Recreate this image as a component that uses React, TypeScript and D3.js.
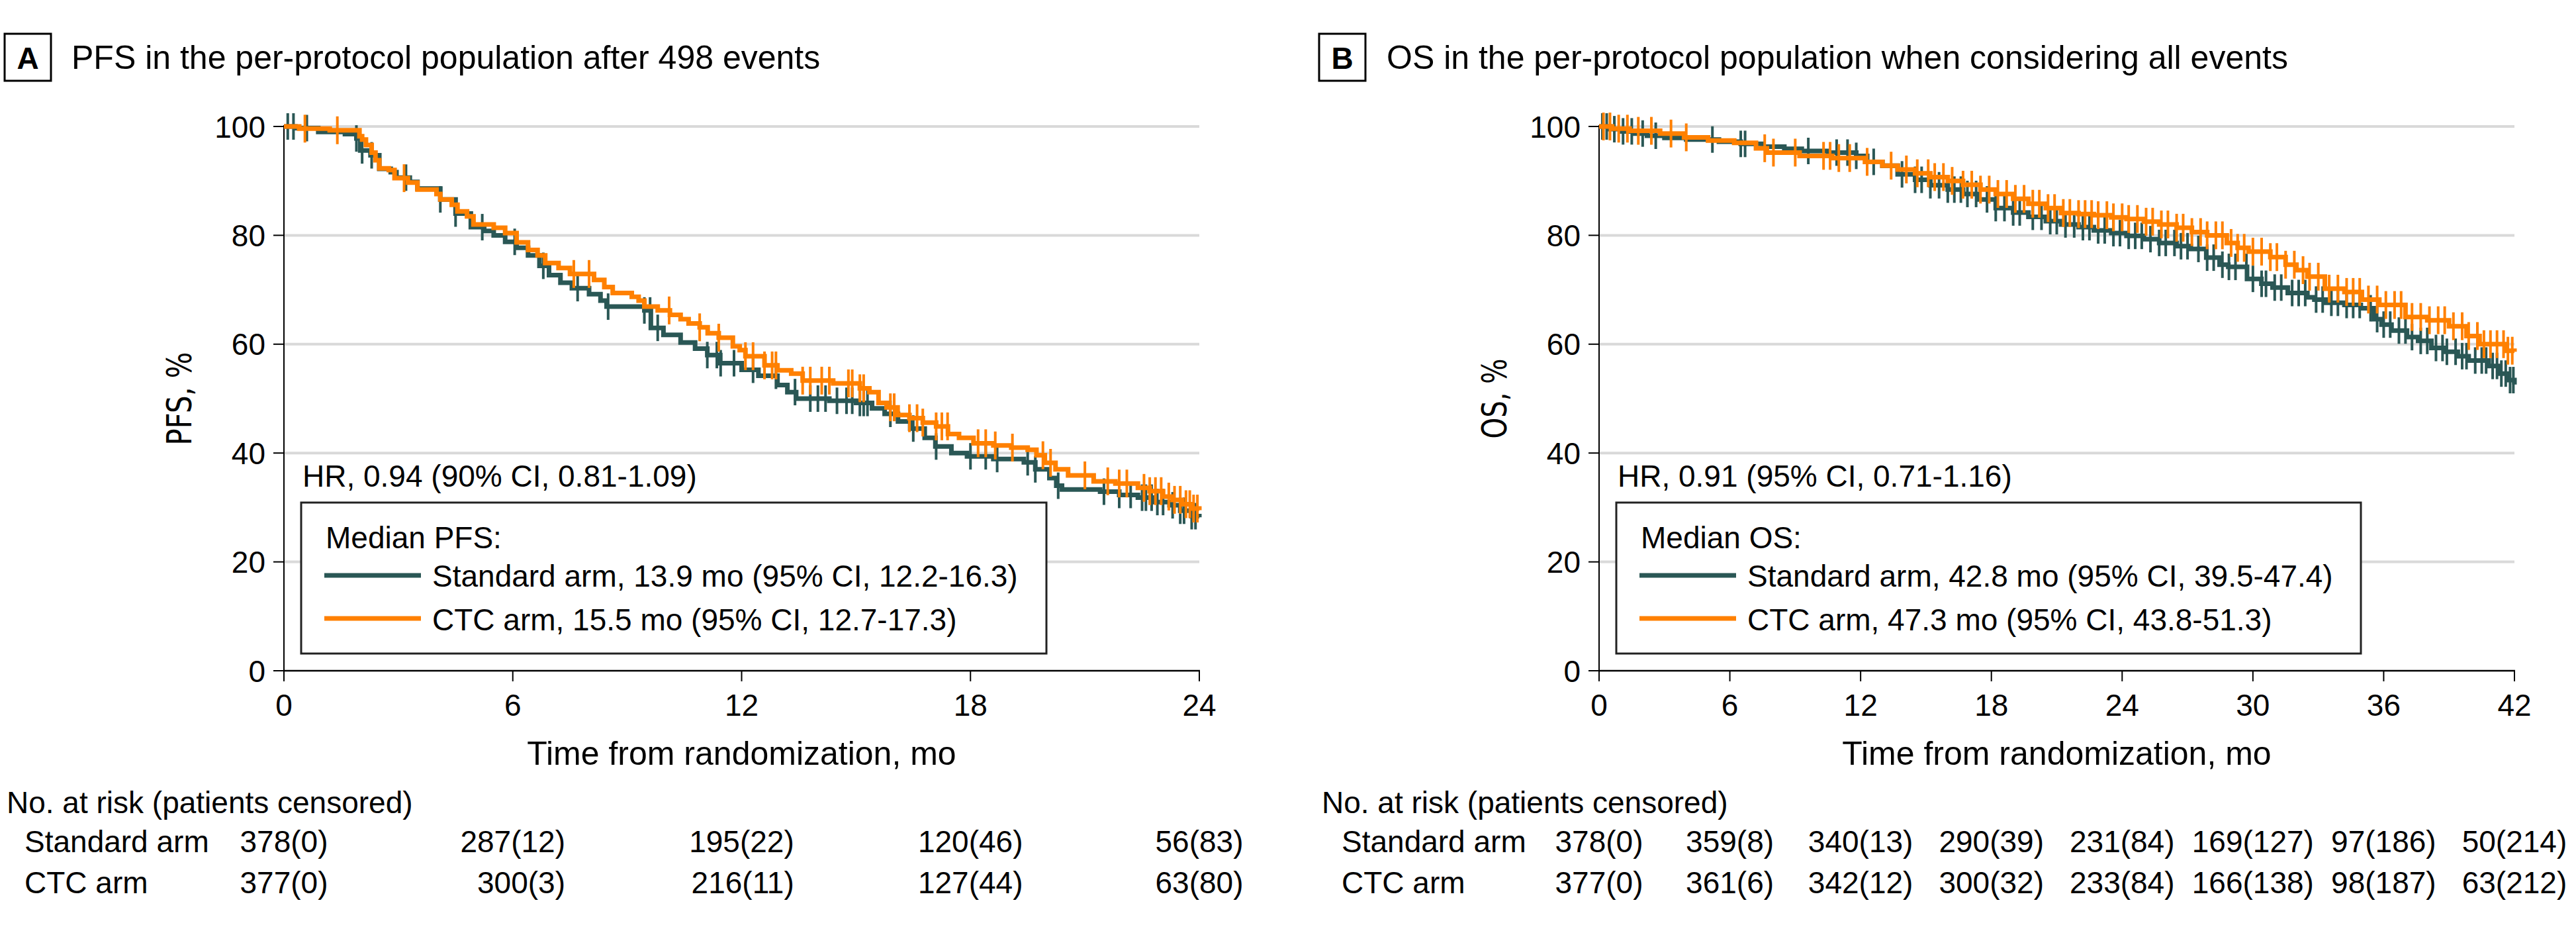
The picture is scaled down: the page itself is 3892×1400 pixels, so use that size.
import React from 'react';
import * as d3 from 'd3';

// ---------- DATA ----------
const panelATitle = 'PFS in the per-protocol population after 498 events';
const panelBTitle = 'OS in the per-protocol population when considering all events';

const xTicksA = [0, 6, 12, 18, 24];
const xTicksB = [0, 6, 12, 18, 24, 30, 36, 42];
const yTicks = [0, 20, 40, 60, 80, 100];

// Kaplan-Meier step points [month, percent]
const pfsStandard: [number, number][] = [
  [0, 100], [0.3, 99.7], [0.9, 99.0], [1.6, 98.6], [1.9, 97.8], [2.0, 95.6], [2.27, 94.7], [2.5, 92.2],
  [2.8, 91.6], [2.95, 90.6], [3.3, 89.8], [3.5, 88.6], [4.1, 86.6], [4.5, 84.0], [4.9, 81.5], [5.25, 80.8],
  [5.5, 80.0], [5.8, 78.8], [6.1, 77.7], [6.4, 76.3], [6.7, 74.4], [6.95, 72.7], [7.25, 71.3], [7.55, 70.3],
  [8.0, 69.2], [8.3, 68.0], [8.46, 66.9], [9.45, 66.2], [9.62, 63.0], [9.95, 61.7], [10.4, 60.3], [10.78, 59.2],
  [11.1, 58.0], [11.44, 56.5], [12.0, 55.3], [12.44, 54.2], [12.94, 52.5], [13.2, 51.2], [13.43, 50.0],
  [14.3, 49.6], [15.0, 49.2], [15.42, 48.2], [15.75, 47.2], [16.1, 45.8], [16.42, 44.5], [16.8, 42.8],
  [17.08, 41.2], [17.5, 40.0], [17.91, 39.4], [18.6, 38.9], [19.4, 38.3], [19.7, 37.0], [20.07, 35.4],
  [20.25, 34.0], [20.4, 33.3], [21.4, 32.9], [21.9, 32.3], [22.39, 31.8], [22.8, 31.0], [23.22, 30.4],
  [23.5, 29.4], [23.8, 28.4], [24, 28.2],
];
const pfsCtc: [number, number][] = [
  [0, 100], [0.4, 99.6], [1.2, 99.3], [1.98, 98.2], [2.05, 97.6], [2.15, 96.6], [2.3, 95.2], [2.4, 93.8],
  [2.5, 92.3], [2.75, 92.0], [2.9, 90.5], [3.25, 89.7], [3.5, 88.4], [4.0, 87.6], [4.1, 86.6], [4.4, 85.6],
  [4.55, 84.4], [4.8, 83.5], [4.97, 82.0], [5.5, 81.4], [5.8, 80.4], [6.1, 78.7], [6.4, 77.3], [6.65, 76.3],
  [6.85, 74.9], [7.2, 74.0], [7.5, 72.9], [8.13, 71.8], [8.4, 70.5], [8.62, 69.4], [9.12, 68.7], [9.3, 68.0],
  [9.45, 66.9], [9.8, 66.2], [10.12, 65.4], [10.4, 64.6], [10.61, 63.8], [10.9, 63.1], [11.11, 62.0],
  [11.4, 61.2], [11.77, 59.6], [11.95, 58.9], [12.1, 57.8], [12.6, 56.1], [12.94, 55.2], [13.3, 54.6],
  [13.6, 53.3], [14.4, 52.8], [15.1, 51.9], [15.35, 51.2], [15.59, 49.2], [15.8, 48.4], [16.09, 47.0],
  [16.4, 46.4], [16.75, 45.6], [17.1, 44.9], [17.41, 43.5], [17.7, 42.8], [18.08, 41.8], [18.6, 41.4],
  [19.07, 41.0], [19.5, 40.6], [19.73, 39.6], [19.95, 38.2], [20.23, 37.0], [20.56, 35.9], [21.23, 34.8],
  [21.8, 34.4], [22.39, 33.6], [22.7, 33.0], [23.05, 32.0], [23.3, 31.4], [23.55, 30.6], [23.8, 29.8], [24, 29.5],
];
const osStandard: [number, number][] = [
  [0, 100], [0.5, 99.5], [1.0, 99.1], [1.6, 98.7], [2.2, 98.3], [3.0, 97.9], [4.0, 97.6], [5.5, 97.2],
  [6.5, 96.8], [7.5, 96.3], [8.5, 95.9], [9.3, 95.5], [10.5, 95.2], [11.8, 94.6], [12.3, 93.5], [13.0, 92.8],
  [13.7, 91.2], [14.5, 90.2], [15.2, 89.2], [16.0, 88.4], [16.7, 87.6], [17.4, 86.6], [18.2, 85.0], [19.0, 84.2],
  [19.7, 83.4], [20.5, 82.6], [21.2, 82.0], [22.0, 81.5], [22.7, 80.9], [23.5, 80.4], [24.2, 79.9], [25.0, 79.3],
  [25.7, 78.6], [26.5, 78.0], [27.15, 77.5], [27.86, 75.9], [28.47, 74.6], [28.87, 74.2], [29.73, 72.0],
  [30.39, 71.1], [30.9, 70.4], [31.6, 69.4], [32.5, 68.6], [32.82, 68.2], [33.33, 67.6], [34.2, 67.2],
  [34.95, 66.6], [35.55, 64.6], [35.9, 63.6], [36.36, 62.5], [37.07, 61.3], [37.58, 60.6], [38.19, 59.3],
  [38.79, 58.6], [39.4, 57.8], [39.9, 57.0], [40.82, 56.0], [41.32, 54.6], [41.73, 53.4], [42, 52.6],
];
const osCtc: [number, number][] = [
  [0, 100], [0.6, 99.6], [1.4, 99.2], [2.8, 98.7], [3.9, 98.0], [5.0, 97.4], [6.2, 97.0], [7.2, 96.0],
  [7.7, 95.2], [9.2, 94.6], [10.7, 94.2], [12.2, 93.5], [13.0, 92.8], [13.7, 92.1], [14.5, 91.4], [15.2, 90.7],
  [16.0, 90.0], [16.7, 89.3], [17.5, 88.4], [18.2, 87.6], [19.0, 86.7], [19.7, 85.8], [20.5, 85.0], [21.2, 84.1],
  [22.0, 83.9], [22.7, 83.7], [23.5, 83.3], [24.2, 83.0], [25.0, 82.5], [25.7, 82.0], [26.5, 81.4], [27.2, 80.6],
  [27.9, 80.0], [28.8, 78.6], [29.3, 77.7], [29.8, 77.0], [30.8, 76.0], [31.5, 74.6], [32.0, 73.6], [32.5, 72.4],
  [33.3, 70.2], [34.2, 69.6], [35.0, 68.2], [35.8, 67.2], [37.0, 65.0], [38.0, 64.4], [39.0, 63.3], [39.8, 61.5],
  [40.4, 60.0], [41.6, 58.8], [42, 58.6],
];

// Censoring times (months)
const pfsStandardCensor = [0.1, 0.25, 0.6, 1.9, 2.05, 2.3, 3.2, 4.1, 4.5, 5.2, 6.05, 6.8, 7.7, 8.5, 9.45, 9.6, 9.8,
  11.1, 11.35, 11.45, 11.8, 12.3, 12.9, 13.4, 13.8, 14.0, 14.2, 14.5, 14.75, 14.9, 15.1, 15.2, 15.3, 15.9, 16.5,
  17.1, 18.0, 18.4, 18.7, 19.5, 19.7, 20.3, 21.5, 21.9, 22.2, 22.5, 22.6, 22.75, 22.9, 23.05, 23.3, 23.5, 23.6,
  23.8, 23.9];
const pfsCtcCensor = [0.55, 1.4, 3.15, 7.6, 8.0, 10.1, 10.9, 11.4, 12.1, 12.3, 12.6, 12.8, 12.9, 13.6, 13.8, 14.1,
  14.3, 14.8, 14.9, 15.1, 15.2, 15.9, 16.0, 16.4, 16.6, 16.75, 17.1, 17.25, 17.4, 18.2, 18.4, 18.65, 19.1, 19.9,
  20.1, 21.0, 21.6, 21.9, 22.1, 22.55, 22.7, 22.85, 23.0, 23.2, 23.35, 23.5, 23.65, 23.75, 23.85, 23.95];
const osStandardCensor = [0.15, 0.35, 0.7, 1.1, 1.5, 2.0, 2.6, 5.2, 6.5, 6.7, 9.6, 10.9, 11.4, 11.8, 12.6, 13.9,
  14.5, 14.8, 15.2, 15.6, 16.0, 16.3, 16.6, 16.9, 17.3, 17.8, 18.2, 18.6, 19.0, 19.3, 19.9, 20.3, 20.7, 21.0, 21.4,
  21.8, 22.2, 22.5, 22.9, 23.2, 23.6, 23.9, 24.3, 24.6, 24.9, 25.3, 25.7, 26.0, 26.4, 26.7, 27.0, 27.5, 27.9, 28.2,
  28.6, 28.9, 29.2, 29.7, 30.0, 30.4, 30.6, 31.0, 31.3, 31.8, 32.1, 32.4, 32.9, 33.2, 33.6, 33.9, 34.3, 34.6, 34.9,
  35.4, 35.7, 36.0, 36.3, 36.7, 37.0, 37.3, 37.7, 38.0, 38.4, 38.7, 38.9, 39.3, 39.6, 39.8, 40.2, 40.5, 40.7, 41.0,
  41.2, 41.4, 41.6, 41.8, 41.95];
const osCtcCensor = [0.2, 0.5, 0.9, 1.3, 1.8, 2.4, 3.3, 4.0, 7.6, 8.0, 9.0, 10.3, 10.6, 11.0, 11.5, 12.3, 13.4, 14.1,
  14.6, 15.1, 15.4, 15.8, 16.2, 16.7, 17.1, 17.5, 17.9, 18.3, 18.7, 19.1, 19.5, 19.9, 20.2, 20.6, 20.9, 21.3, 21.6,
  22.0, 22.3, 22.6, 22.9, 23.3, 23.6, 24.0, 24.3, 24.7, 25.1, 25.4, 25.8, 26.1, 26.5, 26.8, 27.2, 27.6, 27.9, 28.3,
  28.6, 29.0, 29.3, 29.6, 30.0, 30.4, 30.8, 31.1, 31.5, 31.9, 32.3, 32.6, 33.0, 33.5, 33.9, 34.3, 34.6, 34.9, 35.3,
  35.7, 36.1, 36.5, 36.8, 37.3, 37.7, 38.1, 38.5, 38.8, 39.2, 39.6, 39.9, 40.3, 40.6, 40.9, 41.2, 41.5, 41.7, 41.9];

// Numbers at risk (patients censored)
const pfsStdAtRisk = [378, 287, 195, 120, 56];
const pfsStdCensored = [0, 12, 22, 46, 83];
const pfsCtcAtRisk = [377, 300, 216, 127, 63];
const pfsCtcCensored = [0, 3, 11, 44, 80];
const osStdAtRisk = [378, 359, 340, 290, 231, 169, 97, 50];
const osStdCensored = [0, 8, 13, 39, 84, 127, 186, 214];
const osCtcAtRisk = [377, 361, 342, 300, 233, 166, 98, 63];
const osCtcCensored = [0, 6, 12, 32, 84, 138, 187, 212];

const pfsLegend = ['Standard arm, 13.9 mo (95% CI, 12.2-16.3)', 'CTC arm, 15.5 mo (95% CI, 12.7-17.3)'];
const osLegend = ['Standard arm, 42.8 mo (95% CI, 39.5-47.4)', 'CTC arm, 47.3 mo (95% CI, 43.8-51.3)'];
const armNames = ['Standard arm', 'CTC arm'];

// ---------- STYLE ----------
const FONT = '"Liberation Sans", Arial, sans-serif';
const LABEL_FONT = '"DejaVu Sans", Verdana, sans-serif';
const TEAL = '#2a5755';
const ORANGE = '#ff8000';
const GRID = '#d9d9d9';

function stepValue(pts: [number, number][], t: number) {
  let v = pts[0][1];
  for (const p of pts) { if (p[0] <= t) v = p[1]; else break; }
  return v;
}

function textW(s: string, fs: number) {
  let w = 0;
  for (const c of s) w += (c === '(' || c === ')') ? 0.333 : 0.556;
  return w * fs;
}

type PanelCfg = {
  ox: number; x0: number; x1: number; xMax: number; xTicks: number[];
  letter: string; title: string; yLabel: string; yLabelLen: number;
  std: [number, number][]; ctc: [number, number][]; stdCens: number[]; ctcCens: number[];
  hr: string; medianLabel: string; legend: string[]; legendW: number;
  stdRisk: number[]; stdCensN: number[]; ctcRisk: number[]; ctcCensN: number[];
  letterX: number; titleX: number; headX: number; rowX: number;
};

function Panel({ c }: { c: PanelCfg }) {
  const yBot = 1013, yTop = 191;
  const x = d3.scaleLinear().domain([0, c.xMax]).range([c.x0, c.x1]);
  const y = d3.scaleLinear().domain([0, 100]).range([yBot, yTop]);
  const line = d3.line<[number, number]>().x(d => x(d[0])).y(d => y(d[1])).curve(d3.curveStepAfter);
  const fs = 46;
  const cols = c.xTicks.map((t, i) => {
    const s1 = `${c.stdRisk[i]}(${c.stdCensN[i]})`;
    const s2 = `${c.ctcRisk[i]}(${c.ctcCensN[i]})`;
    const mw = Math.max(textW(s1, fs), textW(s2, fs));
    return { x: x(t) + mw / 2, s1, s2 };
  });
  const lgX = c.x0 + 26;
  return (
    <g>
      {/* panel letter and title */}
      <rect x={c.letterX} y={51} width={70} height={71} fill="none" stroke="#000" strokeWidth={3} />
      <text x={c.letterX + 35} y={104} textAnchor="middle" fontFamily={FONT} fontWeight="bold" fontSize={46}>{c.letter}</text>
      <text x={c.titleX} y={104} fontFamily={FONT} fontSize={50}>{c.title}</text>

      {/* gridlines */}
      {yTicks.filter(t => t > 0).map(t => (
        <line key={t} x1={c.x0} x2={c.x1} y1={y(t)} y2={y(t)} stroke={GRID} strokeWidth={4} />
      ))}

      {/* axes */}
      <line x1={c.x0} x2={c.x0} y1={yTop - 2} y2={yBot} stroke="#000" strokeWidth={2} />
      <line x1={c.x0 - 1} x2={c.x1 + 1} y1={yBot} y2={yBot} stroke="#000" strokeWidth={2.5} />
      {yTicks.map(t => (
        <g key={t}>
          <line x1={c.x0 - 16} x2={c.x0} y1={y(t)} y2={y(t)} stroke="#000" strokeWidth={2} />
          <text x={c.x0 - 28} y={y(t)} dy="0.36em" textAnchor="end" fontFamily={FONT} fontSize={46}>{t}</text>
        </g>
      ))}
      {c.xTicks.map(t => (
        <g key={t}>
          <line x1={x(t)} x2={x(t)} y1={yBot} y2={yBot + 16} stroke="#000" strokeWidth={2} />
          <text x={x(t)} y={1081} textAnchor="middle" fontFamily={FONT} fontSize={46}>{t}</text>
        </g>
      ))}
      <text x={(c.x0 + c.x1) / 2} y={1155} textAnchor="middle" fontFamily={FONT} fontSize={50}>Time from randomization, mo</text>
      <text transform={`translate(${c.x0 - 140},${(yTop + yBot) / 2}) rotate(-90)`} textAnchor="middle"
        fontFamily={LABEL_FONT} fontSize={51} textLength={c.yLabelLen} lengthAdjust="spacingAndGlyphs">{c.yLabel}</text>

      {/* curves */}
      <path d={line(c.std) || ''} fill="none" stroke={TEAL} strokeWidth={7} />
      {c.stdCens.map((t, i) => {
        const yy = y(stepValue(c.std, t));
        return <line key={'s' + i} x1={x(t)} x2={x(t)} y1={yy - 20} y2={yy + 20} stroke={TEAL} strokeWidth={4} />;
      })}
      <path d={line(c.ctc) || ''} fill="none" stroke={ORANGE} strokeWidth={7} />
      {c.ctcCens.map((t, i) => {
        const yy = y(stepValue(c.ctc, t));
        return <line key={'c' + i} x1={x(t)} x2={x(t)} y1={yy - 21} y2={yy + 21} stroke={ORANGE} strokeWidth={4} />;
      })}

      {/* HR + legend */}
      <text x={c.x0 + 28} y={735} fontFamily={FONT} fontSize={46}>{c.hr}</text>
      <rect x={lgX} y={759} width={c.legendW} height={228} fill="#fff" stroke="#222" strokeWidth={3} />
      <text x={lgX + 37} y={828} fontFamily={FONT} fontSize={46}>{c.medianLabel}</text>
      <line x1={lgX + 35} x2={lgX + 181} y1={869} y2={869} stroke={TEAL} strokeWidth={7} />
      <text x={lgX + 198} y={886} fontFamily={FONT} fontSize={46}>{c.legend[0]}</text>
      <line x1={lgX + 35} x2={lgX + 181} y1={934} y2={934} stroke={ORANGE} strokeWidth={7} />
      <text x={lgX + 198} y={952} fontFamily={FONT} fontSize={46}>{c.legend[1]}</text>

      {/* risk table */}
      <text x={c.headX} y={1228} fontFamily={FONT} fontSize={fs}>No. at risk (patients censored)</text>
      <text x={c.rowX} y={1287} fontFamily={FONT} fontSize={fs}>{armNames[0]}</text>
      <text x={c.rowX} y={1349} fontFamily={FONT} fontSize={fs}>{armNames[1]}</text>
      {cols.map((col, i) => (
        <g key={i}>
          <text x={col.x} y={1287} textAnchor="end" fontFamily={FONT} fontSize={fs}>{col.s1}</text>
          <text x={col.x} y={1349} textAnchor="end" fontFamily={FONT} fontSize={fs}>{col.s2}</text>
        </g>
      ))}
    </g>
  );
}

export default function App() {
  const A: PanelCfg = {
    ox: 0, x0: 429, x1: 1812, xMax: 24, xTicks: xTicksA, letter: 'A', title: panelATitle,
    yLabel: 'PFS, %', yLabelLen: 141, std: pfsStandard, ctc: pfsCtc,
    stdCens: pfsStandardCensor, ctcCens: pfsCtcCensor, hr: 'HR, 0.94 (90% CI, 0.81-1.09)',
    medianLabel: 'Median PFS:', legend: pfsLegend, legendW: 1126,
    stdRisk: pfsStdAtRisk, stdCensN: pfsStdCensored, ctcRisk: pfsCtcAtRisk, ctcCensN: pfsCtcCensored,
    letterX: 7, titleX: 108, headX: 10, rowX: 37,
  };
  const B: PanelCfg = {
    ox: 0, x0: 2416, x1: 3799, xMax: 42, xTicks: xTicksB, letter: 'B', title: panelBTitle,
    yLabel: 'OS, %', yLabelLen: 121, std: osStandard, ctc: osCtc,
    stdCens: osStandardCensor, ctcCens: osCtcCensor, hr: 'HR, 0.91 (95% CI, 0.71-1.16)',
    medianLabel: 'Median OS:', legend: osLegend, legendW: 1125,
    stdRisk: osStdAtRisk, stdCensN: osStdCensored, ctcRisk: osCtcAtRisk, ctcCensN: osCtcCensored,
    letterX: 1993, titleX: 2095, headX: 1997, rowX: 2027,
  };
  return (
    <svg width={3892} height={1400} style={{ position: 'absolute', left: 0, top: 0, background: '#fff' }}>
      <rect x={0} y={0} width={3892} height={1400} fill="#fff" />
      <Panel c={A} />
      <Panel c={B} />
    </svg>
  );
}
